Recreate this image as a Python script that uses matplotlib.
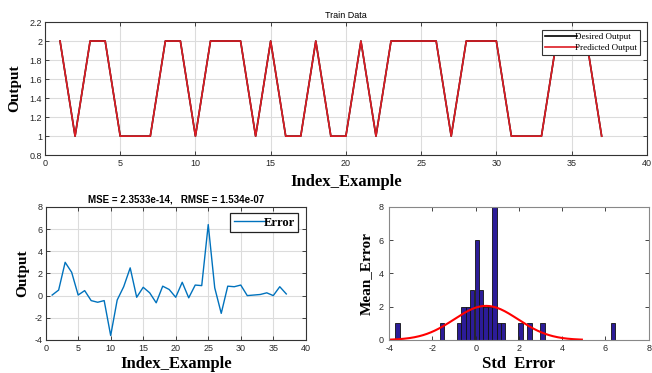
import numpy as np
import matplotlib.pyplot as plt
from matplotlib.ticker import FormatStrFormatter

plt.rcParams['axes.unicode_minus'] = False

# train data
idx = np.arange(1, 38)
desired = [2, 1, 2, 2, 1, 1, 1, 2, 2, 1, 2, 2, 2, 1, 2, 1, 1, 2, 1, 1,
           2, 1, 2, 2, 2, 2, 1, 2, 2, 2, 1, 1, 1, 2, 2, 2, 1]
predicted = list(desired)

# error (shown scaled)
err = [0.05, 0.5, 3.0, 2.1, 0.05, 0.45, -0.45, -0.6, -0.45, -3.6,
       -0.4, 0.8, 2.5, -0.15, 0.75, 0.25, -0.65, 0.85, 0.55, -0.15,
       1.2, -0.2, 0.95, 0.9, 6.4, 0.7, -1.6, 0.85, 0.8, 0.95,
       0.0, 0.05, 0.1, 0.25, 0.0, 0.8, 0.15]

# histogram bins
bin_c = [-3.62, -1.57, -0.78, -0.57, -0.36, -0.16, 0.05, 0.25, 0.45, 0.66,
         0.86, 1.07, 1.27, 2.07, 2.48, 3.09, 6.35]
counts = [1, 1, 1, 2, 2, 3, 6, 3, 2, 2, 8, 1, 1, 1, 1, 1, 1]
bw = 0.205

lblfont = dict(family='Liberation Serif', weight='bold')
grey = '#262626'


def matlab_axes(ax, grid=True):
    ax.tick_params(direction='in', top=True, right=True, length=3,
                   width=0.6, colors=grey, labelsize=6.5, pad=2)
    ax.tick_params(axis='x', pad=3)
    for lab in ax.get_xticklabels() + ax.get_yticklabels():
        lab.set_family('Liberation Sans')
    for s in ax.spines.values():
        s.set_color('#333333')
        s.set_linewidth(0.8)
    if grid:
        ax.grid(True, color='#dcdcdc', linewidth=0.8)
        ax.set_axisbelow(True)


fig = plt.figure(figsize=(6.52, 3.73), dpi=100)

# top
ax1 = fig.add_axes([0.069, 0.584, 0.923, 0.357])
ax1.plot(idx, desired, color='black', lw=1.2, label='Desired Output')
ax1.plot(idx, predicted, color='#dd1c24', lw=1.2, label='Predicted Output')
ax1.set_xlim(0, 40)
ax1.set_ylim(0.8, 2.2)
ax1.set_xticks(np.arange(0, 41, 5))
ax1.set_yticks(np.arange(0.8, 2.21, 0.2))
ax1.yaxis.set_major_formatter(FormatStrFormatter('%g'))
matlab_axes(ax1)
ax1.set_title('Train Data', fontsize=6.5, family='Liberation Sans', pad=3)
ax1.set_xlabel('Index_Example', fontsize=12, labelpad=4, **lblfont)
ax1.set_ylabel('Output', fontsize=11, labelpad=6, **lblfont)
leg = ax1.legend(loc='upper right', bbox_to_anchor=(0.988, 0.94),
                 borderaxespad=0,
                 prop=dict(family='Liberation Serif', size=6.5),
                 handlelength=3.6, handletextpad=-0.3, borderpad=0.35,
                 labelspacing=0.25, fancybox=False, framealpha=1)
leg.get_frame().set_edgecolor('#333333')
leg.get_frame().set_linewidth(0.8)

# bottom left
ax2 = fig.add_axes([0.070, 0.0885, 0.399, 0.357])
ax2.plot(idx, err, color='#0072BD', lw=1.0, label='Error')
ax2.set_xlim(0, 40)
ax2.set_ylim(-4, 8)
ax2.set_xticks(np.arange(0, 41, 5))
ax2.set_yticks(np.arange(-4, 9, 2))
matlab_axes(ax2)
ax2.set_title('MSE = 2.3533e-14,   RMSE = 1.534e-07', fontsize=7,
              family='Liberation Sans', weight='bold', pad=3)
ax2.set_xlabel('Index_Example', fontsize=12, labelpad=2, **lblfont)
ax2.set_ylabel('Output', fontsize=11, labelpad=4, **lblfont)
leg2 = ax2.legend(loc='upper right', bbox_to_anchor=(0.97, 0.95),
                  borderaxespad=0,
                  prop=dict(family='Liberation Serif', weight='bold', size=9),
                  handlelength=2.6, handletextpad=-0.2, borderpad=0.25,
                  fancybox=False, framealpha=1)
leg2.get_frame().set_edgecolor('#222222')
leg2.get_frame().set_linewidth(0.9)

# bottom right
ax3 = fig.add_axes([0.597, 0.0885, 0.398, 0.357])
ax3.bar(bin_c, counts, width=bw, color='#2c1c98', edgecolor='#111111',
        linewidth=0.6)
mu = np.mean(err)
sd = np.std(err, ddof=1)
xs = np.linspace(mu - 3 * sd, mu + 3 * sd, 200)
ys = len(err) * bw / (sd * np.sqrt(2 * np.pi)) * np.exp(-(xs - mu) ** 2 / (2 * sd ** 2))
ax3.plot(xs, ys, color='#ff0000', lw=1.5)
ax3.set_xlim(-4, 8)
ax3.set_ylim(0, 8)
ax3.set_xticks(np.arange(-4, 9, 2))
ax3.set_yticks(np.arange(0, 9, 2))
matlab_axes(ax3, grid=False)
ax3.tick_params(axis='y', pad=4)
for s in ax3.spines.values():
    s.set_color('#888888')
ax3.set_xlabel('Std  Error', fontsize=12, labelpad=2, **lblfont)
ax3.set_ylabel('Mean_Error', fontsize=11, labelpad=4, **lblfont)

fig.savefig('out.png', dpi=100)
